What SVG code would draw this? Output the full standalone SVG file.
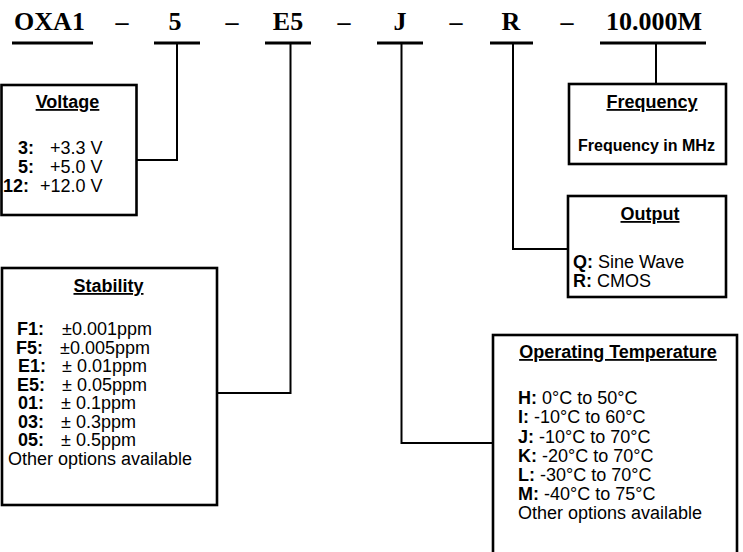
<svg xmlns="http://www.w3.org/2000/svg" width="743" height="552" viewBox="0 0 743 552">
<style>
.code{font-family:"Liberation Serif","Times New Roman",serif;font-weight:bold;font-size:26px;fill:#000;text-anchor:middle}
.ul{stroke:#000;stroke-width:3;fill:none}
.box{fill:#fff;stroke:#000;stroke-width:2.6}
.conn{stroke:#000;stroke-width:2;fill:none}
.t{font-family:"Liberation Sans",Arial,sans-serif;font-weight:bold;font-size:18px;text-decoration:underline;text-anchor:middle;fill:#000}
.b{font-family:"Liberation Sans",Arial,sans-serif;font-size:18px;fill:#000}
.k{font-weight:bold}
</style>
<rect width="743" height="552" fill="#fff"/>
<g id="code">
<text class="code" x="49.5" y="30">OXA1</text>
<text class="code" x="122" y="30">–</text>
<text class="code" x="175" y="30">5</text>
<text class="code" x="232" y="30">–</text>
<text class="code" x="288" y="30">E5</text>
<text class="code" x="344" y="30">–</text>
<text class="code" x="400" y="30">J</text>
<text class="code" x="456" y="30">–</text>
<text class="code" x="511" y="30">R</text>
<text class="code" x="567" y="30">–</text>
<text class="code" x="654" y="30">10.000M</text>
<path class="ul" d="M12,43H93M154,43H200M265,43H311M377,43H423M490,43H533M600,43H706"/>
</g>
<g id="connectors">
<path class="conn" d="M177,44V160H136"/>
<path class="conn" d="M290.5,44V393H217"/>
<path class="conn" d="M401.5,44V443H493"/>
<path class="conn" d="M513,44V249H568"/>
<path class="conn" d="M656,44V84"/>
</g>
<g id="voltage">
<rect class="box" x="1.5" y="85" width="135" height="130"/>
<text class="t" x="67.5" y="108">Voltage</text>
<text class="b"><tspan class="k" x="18" y="154">3:</tspan><tspan x="50" y="154">+3.3 V</tspan></text>
<text class="b"><tspan class="k" x="18" y="173">5:</tspan><tspan x="50" y="173">+5.0 V</tspan></text>
<text class="b"><tspan class="k" x="3" y="192">12:</tspan><tspan x="40" y="192">+12.0 V</tspan></text>
</g>
<g id="stability">
<rect class="box" x="2" y="268" width="215" height="237"/>
<text class="t" x="108.5" y="292">Stability</text>
<text class="b"><tspan class="k" x="17" y="335">F1:</tspan><tspan x="62" y="335">±0.001ppm</tspan></text>
<text class="b"><tspan class="k" x="16" y="353.5">F5:</tspan><tspan x="60" y="353.5">±0.005ppm</tspan></text>
<text class="b"><tspan class="k" x="18" y="372">E1:</tspan><tspan x="62" y="372">± 0.01ppm</tspan></text>
<text class="b"><tspan class="k" x="17" y="390.5">E5:</tspan><tspan x="62" y="390.5">± 0.05ppm</tspan></text>
<text class="b"><tspan class="k" x="18" y="409">01:</tspan><tspan x="61" y="409">± 0.1ppm</tspan></text>
<text class="b"><tspan class="k" x="18" y="427.5">03:</tspan><tspan x="61" y="427.5">± 0.3ppm</tspan></text>
<text class="b"><tspan class="k" x="18" y="446">05:</tspan><tspan x="61" y="446">± 0.5ppm</tspan></text>
<text class="b" x="8" y="464.5">Other options available</text>
</g>
<g id="temperature">
<rect class="box" x="493" y="335" width="244" height="240"/>
<text class="t" x="618" y="358">Operating Temperature</text>
<text class="b" x="518" y="404"><tspan class="k">H:</tspan> 0°C to 50°C</text>
<text class="b" x="518" y="423"><tspan class="k">I:</tspan> -10°C to 60°C</text>
<text class="b" x="518" y="443"><tspan class="k">J:</tspan> -10°C to 70°C</text>
<text class="b" x="518" y="462"><tspan class="k">K:</tspan> -20°C to 70°C</text>
<text class="b" x="518" y="481"><tspan class="k">L:</tspan> -30°C to 70°C</text>
<text class="b" x="518" y="500"><tspan class="k">M:</tspan> -40°C to 75°C</text>
<text class="b" x="518" y="519">Other options available</text>
</g>
<g id="output">
<rect class="box" x="568" y="196" width="158" height="101"/>
<text class="t" x="650" y="220">Output</text>
<text class="b" x="573" y="268"><tspan class="k">Q:</tspan> Sine Wave</text>
<text class="b" x="573" y="287"><tspan class="k">R:</tspan> CMOS</text>
</g>
<g id="frequency">
<rect class="box" x="569" y="84" width="157" height="80"/>
<text class="t" x="652" y="108">Frequency</text>
<text class="b k" x="578" y="151" style="font-size:16px">Frequency in MHz</text>
</g>
</svg>
